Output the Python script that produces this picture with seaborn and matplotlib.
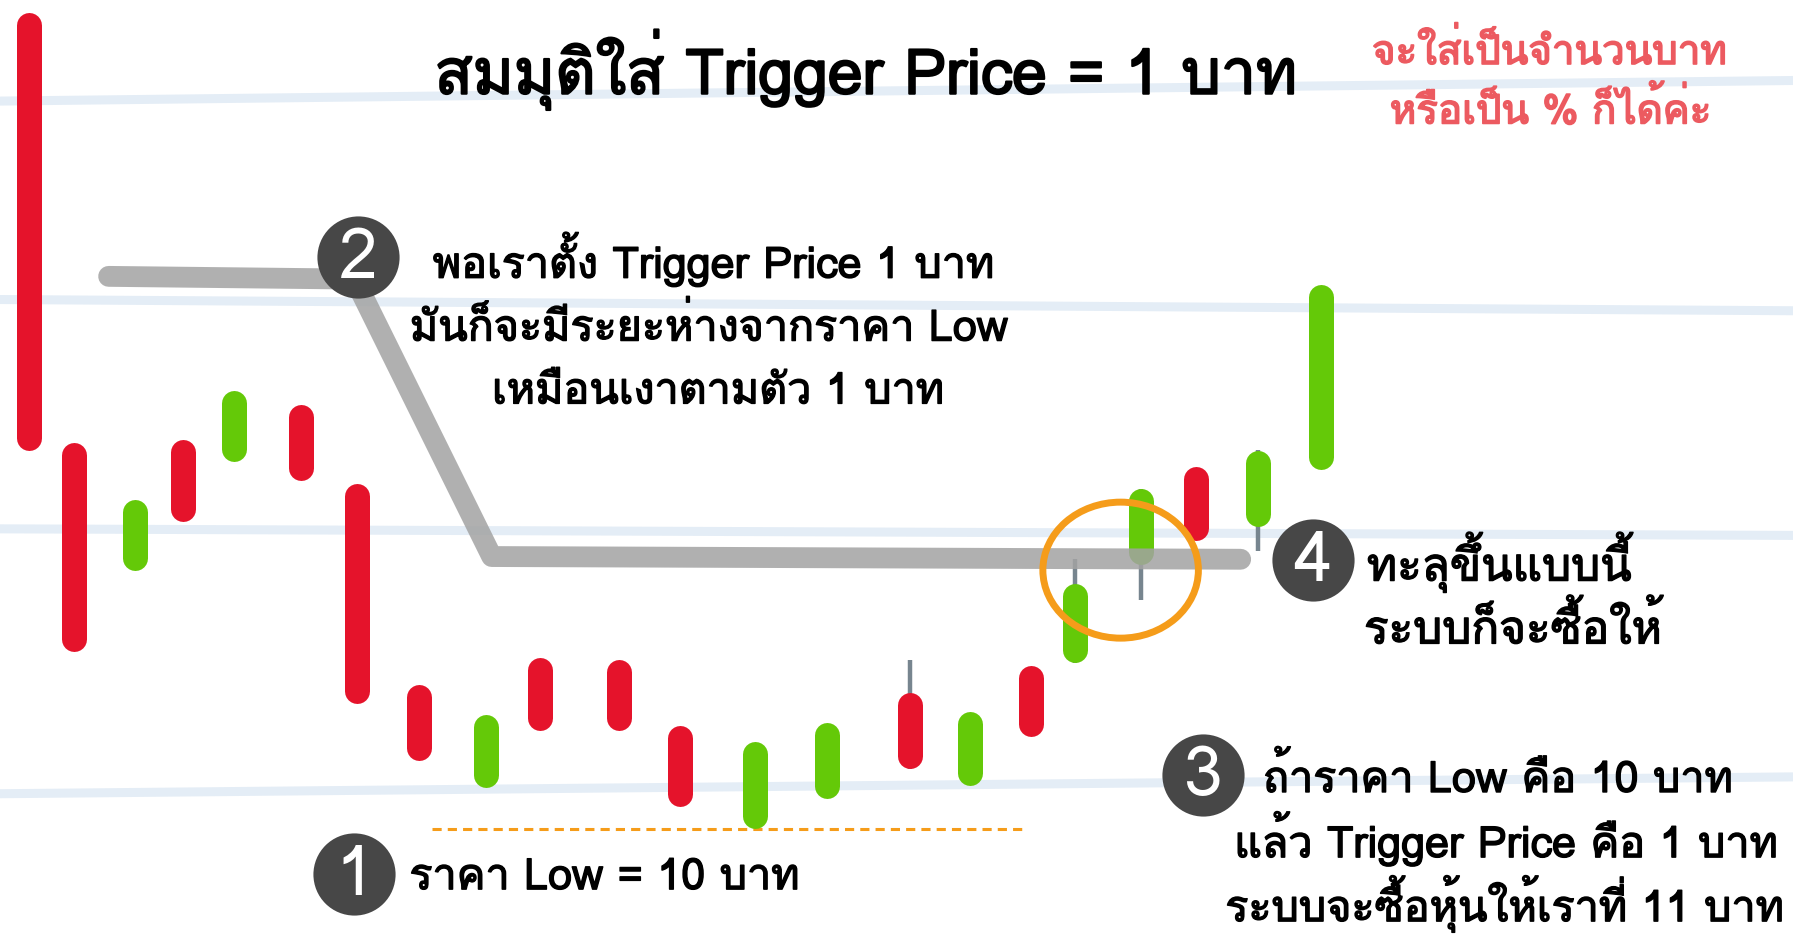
import numpy as np
import pandas as pd
import matplotlib
matplotlib.use("Agg")
from matplotlib import pyplot as plt
from matplotlib import patheffects as pe
from matplotlib.patches import Ellipse
import seaborn as sns

# ---------- data (time index, candle bodies, wicks) ----------
t = [25, 65, 118, 160, 205, 263, 312, 366, 425, 472, 541,
     595, 660, 723, 796, 848, 902, 940, 998, 1046, 1100, 1155]
body_top = [13.00, 11.42, 11.21, 11.43, 11.61, 11.56, 11.27, 10.53, 10.42, 10.63, 10.62,
            10.38, 10.32, 10.39, 10.50, 10.43, 10.60, 10.90, 11.25, 11.33, 11.39, 12.00]
body_bottom = [11.39, 10.65, 10.95, 11.13, 11.35, 11.28, 10.46, 10.25, 10.15, 10.36, 10.36,
               10.08, 10.00, 10.11, 10.22, 10.16, 10.34, 10.61, 10.97, 11.06, 11.11, 11.32]
direction = ["down", "down", "up", "down", "up", "down", "down", "down", "up", "down", "down",
             "down", "up", "up", "down", "up", "down", "up", "up", "down", "up", "up"]
high = [13.00, 11.42, 11.21, 11.43, 11.61, 11.56, 11.27, 10.53, 10.42, 10.63, 10.62,
        10.38, 10.32, 10.39, 10.62, 10.43, 10.60, 10.99, 11.25, 11.33, 11.39, 12.00]
low = [11.39, 10.65, 10.95, 11.13, 11.35, 11.28, 10.46, 10.25, 10.15, 10.36, 10.36,
       10.08, 10.00, 10.11, 10.22, 10.16, 10.34, 10.61, 10.84, 11.06, 11.02, 11.32]

# trailing trigger line (price follows low + 1 baht)
trigger_t = [95, 310, 430, 1085]
trigger_price = [12.03, 12.02, 11.00, 10.99]

low_price = 10.0
low_span = [378, 898]
trigger_hit_t = 980
trigger_hit_price = 10.95

title = "สมมุติใส่ Trigger Price = 1 บาท"
note = ["จะใส่เป็นจำนวนบาท", "หรือเป็น % ก็ได้ค่ะ"]
step1 = ["ราคา Low = 10 บาท"]
step2 = ["พอเราตั้ง Trigger Price 1 บาท", "มันก็จะมีระยะห่างจากราคา Low", "เหมือนเงาตามตัว 1 บาท"]
step3 = ["ถ้าราคา Low คือ 10 บาท", "แล้ว Trigger Price คือ 1 บาท", "ระบบจะซื้อหุ้นให้เราที่ 11 บาท"]
step4 = ["ทะลุขึ้นแบบนี้", "ระบบก็จะซื้อให้"]

df = pd.DataFrame({"t": t, "top": body_top, "bottom": body_bottom,
                   "dir": direction, "high": high, "low": low})
trig = pd.DataFrame({"t": trigger_t, "price": trigger_price})

sns.set_theme(style="white")
# Loma places stacked Thai tone marks correctly without text shaping
plt.rcParams["font.family"] = ["Loma", "DejaVu Sans"]

RED = "#e5132b"
GREEN = "#64c908"
GRAY = "#a3a3a3"
WICK = "#77858f"
BADGE = "#474747"
ORANGE = "#f59c1a"
NOTE_RED = "#ec5a60"

fig = plt.figure(figsize=(17.93, 9.36), dpi=100)
ax = fig.add_axes([0, 0, 1, 1])
ax.set_xlim(0, 1568)
ax.set_ylim(9.605, 13.046)
ax.axis("off")

# notebook lines
for y0, y1 in [(0.892, 0.914), (0.680, 0.668), (0.435, 0.428), (0.152, 0.170)]:
    ax.plot([0, 1], [y0, y1], transform=ax.transAxes, color="#e4edf6",
            lw=6.5, solid_capstyle="butt", zorder=0)

# candle bodies with round caps: pull ends in by half the line width
body_lw = 18
ax_h_px = fig.get_figheight() * fig.dpi
half = (body_lw / 2 * fig.dpi / 72) / ax_h_px * (ax.get_ylim()[1] - ax.get_ylim()[0])

# wicks
wk = df[(df["high"] > df["top"]) | (df["low"] < df["bottom"])]
ax.vlines(wk["t"], wk["low"], wk["high"], color=WICK, lw=3.2, zorder=2)

for d, col in [("down", RED), ("up", GREEN)]:
    sub = df[df["dir"] == d]
    lc = ax.vlines(sub["t"], sub["bottom"] + half, sub["top"] - half,
                   color=col, lw=body_lw, zorder=3)
    lc.set_capstyle("round")

# trailing trigger line
sns.lineplot(data=trig, x="t", y="price", ax=ax, color=GRAY, lw=15,
             alpha=0.85, solid_capstyle="round", solid_joinstyle="round",
             sort=False, zorder=4)
ax.set_xlabel("")
ax.set_ylabel("")

# low price dashed line
ax.hlines(low_price, low_span[0], low_span[1], color=ORANGE, lw=2.2,
          linestyles=(0, (3, 2)), zorder=2)

# breakout circle
ax.add_patch(Ellipse((trigger_hit_t, trigger_hit_price), 136, 0.50, fill=False,
                     ec=ORANGE, lw=5, zorder=5))


def fx(x):
    return x / 1568


def fy(y):
    return 1 - y / 819


# numbered badges
for num, (bx, by) in zip(["1", "2", "3", "4"],
                         [(310, 765), (313, 225), (1052, 678), (1148, 490)]):
    ax.scatter([fx(bx)], [fy(by)], s=3500, color=BADGE, transform=ax.transAxes,
               zorder=6, linewidths=0)
    ax.text(fx(bx), fy(by) - 0.003, num, transform=ax.transAxes, ha="center",
            va="center", color="white", fontsize=50, zorder=7)


def write(lines, xs, baselines, size, color="black", ha="center", stroke=1.0):
    for line, x, y in zip(lines, xs, baselines):
        ax.text(fx(x), fy(y), line, transform=ax.transAxes, ha=ha, va="baseline",
                fontsize=size, color=color, zorder=8,
                path_effects=[pe.withStroke(linewidth=stroke, foreground=color)])


write([title], [757], [82], 45, stroke=1.5)
write(note, [1355, 1356], [56, 108], 29, color=NOTE_RED, stroke=1.2)
write(step2, [624, 620, 628], [243, 298, 353], 31)
write(step1, [358], [778], 31, ha="left")
write(step4, [1311, 1323], [508, 563], 33)
write(step3, [1310, 1317, 1316], [693, 750, 806], 31)

fig.savefig("out.png", dpi=100)
